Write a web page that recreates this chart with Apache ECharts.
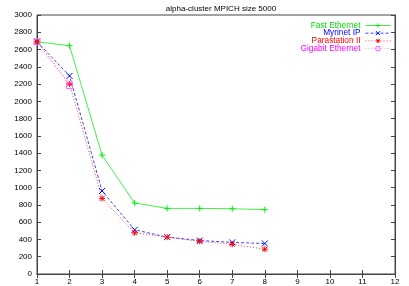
<!DOCTYPE html>
<html><head><meta charset="utf-8">
<script src="https://cdn.jsdelivr.net/npm/echarts@6/dist/echarts.min.js"></script>
<style>html,body{margin:0;padding:0;background:#fff}#c{width:409px;height:286px}</style>
</head><body><div id="c"></div>
<script>
const xs = [1, 2, 3, 4, 5, 6, 7, 8];
const fastEthernet = [2690, 2644, 1377, 822, 760, 760, 756, 745];
const myrinetIP = [2690, 2295, 962, 512, 427, 388, 366, 353];
const parastation = [2690, 2202, 876, 477, 427, 378, 345, 287];
const gigabitX = [1, 2];
const gigabit = [2690, 2182];
const xTicks = [1,2,3,4,5,6,7,8,9,10,11,12];

const plus = 'path://M0,5L10,5M5,0L5,10';
const cross = 'path://M0,0L10,10M10,0L0,10';
const star = 'path://M0,5L10,5M5,0L5,10M1,1L9,9M9,1L1,9';
const square = 'path://M0,0L10,0L10,10L0,10Z';

function pts(x, y){ return x.map((v,i)=>[v,y[i]]); }
function mk(name, x, y, color, dash, sym, size){
  return {
    name, type:'line', data: pts(x,y), symbol: sym, symbolSize: size || 6,
    lineStyle:{color, width: 1, type: dash, opacity:0.75},
    itemStyle:{color: 'none', borderColor: color, borderWidth:1},
    emphasis:{disabled:true}, animation:false
  };
}
const chart = echarts.init(document.getElementById('c'));
const axisCol = '#444';
const font = 'Liberation Sans';
chart.setOption({
  animation:false,
  title:{text:'alpha-cluster MPICH size 5000', left:216, textAlign:'center', top:0,
    textStyle:{fontSize:8, fontWeight:'normal', color:'#000', fontFamily:font}},
  grid:{left:37, right:14, top:15, bottom:12, show:true, borderColor:axisCol, borderWidth:1},
  legend:{
    orient:'vertical', right:13, top:16, align:'right', itemGap:-1.3, itemWidth:25, itemHeight:5,
    lineStyle:{width:1},
    itemStyle:{borderWidth:1},
    textStyle:{fontSize:8.3, fontFamily:font, lineHeight:7.8, padding:[0,0,0,0]},
    data:[
      {name:'Fast Ethernet', textStyle:{color:'#00dd00'}},
      {name:'Myrinet IP', textStyle:{color:'#0000ff'}},
      {name:'Parastation II', textStyle:{color:'#ff0000'}},
      {name:'Gigabit Ethernet', textStyle:{color:'#ff00ff'}}
    ]
  },
  xAxis:[
    {type:'value', min:1, max:12, interval:1, position:'bottom',
     axisLine:{show:true, lineStyle:{color:axisCol}}, splitLine:{show:false},
     axisTick:{inside:true, length:4, lineStyle:{color:axisCol}},
     axisLabel:{fontSize:8, color:'#000', margin:4, fontFamily:font,
       formatter:v=>xTicks.includes(v)?String(v):''}},
    {type:'value', min:1, max:12, interval:1, position:'top',
     axisLine:{show:true, lineStyle:{color:axisCol}}, splitLine:{show:false},
     axisTick:{inside:true, length:4, lineStyle:{color:axisCol}}, axisLabel:{show:false}}
  ],
  yAxis:[
    {type:'value', min:0, max:3000, interval:200, position:'left',
     axisLine:{show:true, lineStyle:{color:axisCol}}, splitLine:{show:false},
     axisTick:{inside:true, length:4, lineStyle:{color:axisCol}},
     axisLabel:{fontSize:8, color:'#000', margin:5, fontFamily:font, formatter:v=>String(v)}},
    {type:'value', min:0, max:3000, interval:200, position:'right',
     axisLine:{show:true, lineStyle:{color:axisCol}}, splitLine:{show:false},
     axisTick:{inside:true, length:4, lineStyle:{color:axisCol}}, axisLabel:{show:false}}
  ],
  series:[
    mk('Fast Ethernet', xs, fastEthernet, '#00ee00', 'solid', plus),
    mk('Myrinet IP', xs, myrinetIP, '#0000ff', [3,2], cross),
    mk('Parastation II', xs, parastation, '#ff0000', [1,2], star),
    mk('Gigabit Ethernet', gigabitX, gigabit, '#ff66ff', [1,2], square, 6)
  ]
});
</script></body></html>
